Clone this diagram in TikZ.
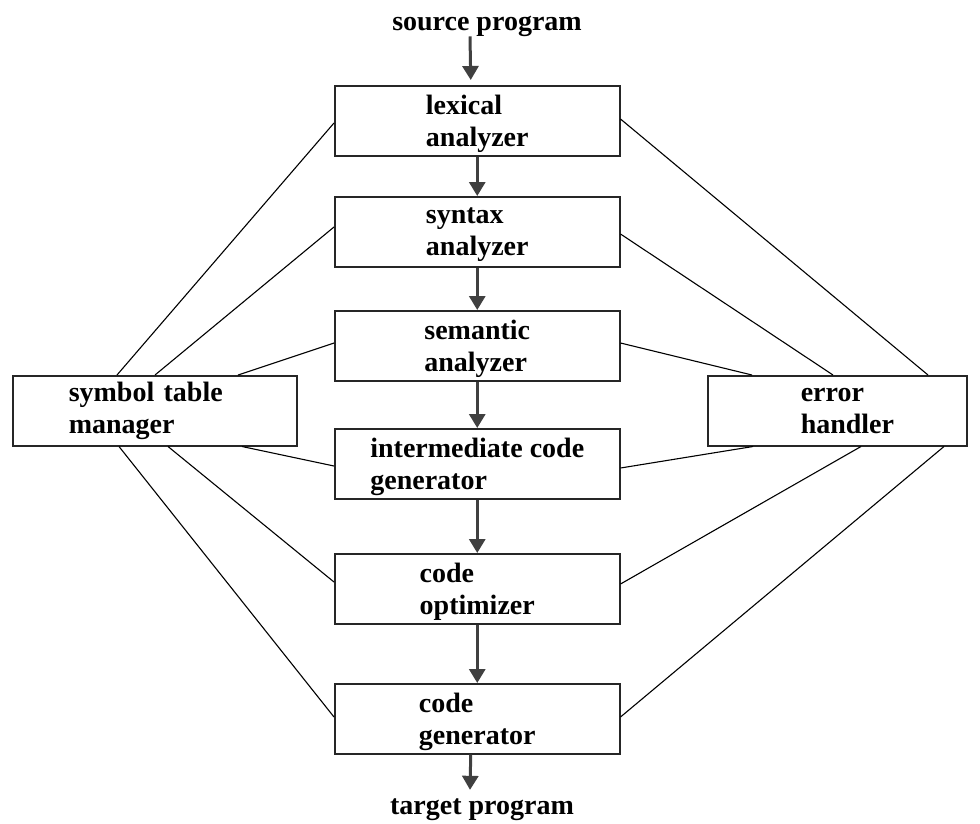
\documentclass[tikz,border=0pt]{standalone}
\usepackage{fontspec}
\setmainfont{Liberation Serif}
\usetikzlibrary{arrows.meta}
\begin{document}
\begin{tikzpicture}[x=1pt,y=1pt,
  box/.style={draw=black!85, line width=1.5pt, align=left, inner sep=0pt,
    minimum height=70pt, anchor=north west, font=\fontsize{28}{32}\selectfont\bfseries},
  stage/.style={box, minimum width=285pt, text depth=0pt},
  side/.style={box, inner ysep=0pt},
  lbl/.style={font=\fontsize{28}{32}\selectfont\bfseries, inner sep=0pt},
  flow/.style={draw=black!75, line width=3pt, -{Triangle[width=16pt,length=14pt]}},
  link/.style={draw=black, line width=1.1pt}]
\useasboundingbox (0,0) rectangle (980,-823);

% main column
\node[stage] (lex) at (334,-85)  {lexical\\analyzer};
\node[stage] (syn) at (334,-196) {syntax\\analyzer};
\node[stage] (sem) at (334,-310) {semantic\\analyzer};
\node[stage] (icg) at (334,-428) {intermediate code\\generator};
\node[stage] (opt) at (334,-553) {code\\optimizer};
\node[stage] (gen) at (334,-683) {code\\generator};

% side boxes
\node[side, minimum width=284pt, text width=172pt] (sym) at (12,-375) {symbol table\\manager};
\node[side, minimum width=259pt, text width=73pt] (err) at (707,-375) {error\\handler};

% texts
\node[lbl] (src) at (487,-26) {source program};
\node[lbl] (tgt) at (482,-810) {target program};

% flow arrows
\draw[flow] ([xshift=-17pt]src.south) -- ([xshift=-6.5pt,yshift=5pt]lex.north);
\draw[flow] (lex.south) -- (syn.north);
\draw[flow] (syn.south) -- (sem.north);
\draw[flow] (sem.south) -- (icg.north);
\draw[flow] (icg.south) -- (opt.north);
\draw[flow] (opt.south) -- (gen.north);
\draw[flow] ([xshift=-6.5pt]gen.south) -- ([xshift=-12pt,yshift=9pt]tgt.north);

% symbol table links
\draw[link] ([xshift=105pt]sym.north west) -- ([yshift=-38pt]lex.north west);
\draw[link] ([xshift=143pt]sym.north west) -- ([yshift=-31pt]syn.north west);
\draw[link] ([xshift=226pt]sym.north west) -- ([yshift=-33pt]sem.north west);
\draw[link] ([xshift=230pt]sym.south west) -- ([yshift=-38pt]icg.north west);
\draw[link] ([xshift=156pt]sym.south west) -- ([yshift=-29pt]opt.north west);
\draw[link] ([xshift=107pt]sym.south west) -- ([yshift=-34pt]gen.north west);

% error handler links
\draw[link] ([xshift=221pt]err.north west) -- ([yshift=-34pt]lex.north east);
\draw[link] ([xshift=126pt]err.north west) -- ([yshift=-38pt]syn.north east);
\draw[link] ([xshift=45pt]err.north west)  -- ([yshift=-33pt]sem.north east);
\draw[link] ([xshift=46pt]err.south west)  -- ([yshift=-40pt]icg.north east);
\draw[link] ([xshift=154pt]err.south west) -- ([yshift=-31pt]opt.north east);
\draw[link] ([xshift=237pt]err.south west) -- ([yshift=-34pt]gen.north east);
\end{tikzpicture}
\end{document}
